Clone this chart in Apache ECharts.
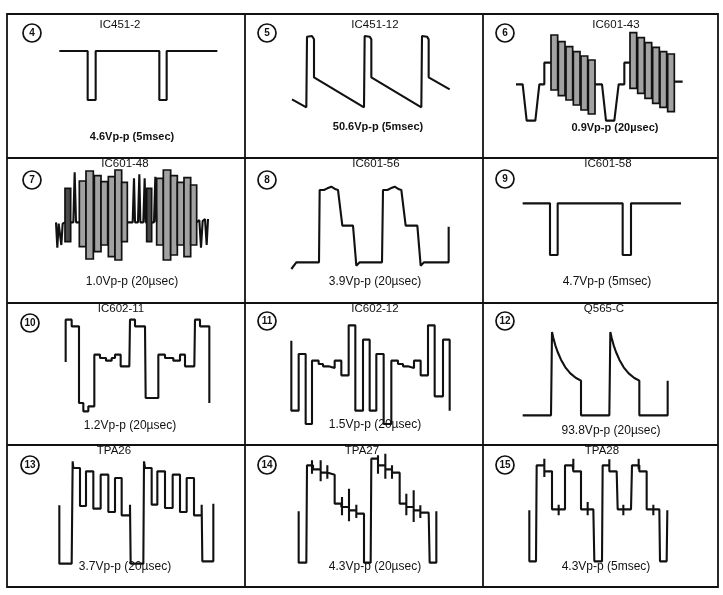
<!DOCTYPE html>
<html>
<head>
<meta charset="utf-8">
<script src="https://cdn.jsdelivr.net/npm/echarts@6/dist/echarts.min.js"></script>
<style>
  html, body { margin: 0; padding: 0; background: #fff; }
  #chart { width: 723px; height: 595px; }
</style>
</head>
<body>
<div id="chart"></div>
<script>
// waveform traces (1/3 px units, y grows downward)
const wave4 = [[[178,153],[263,153],[263,300],[287,300],[287,153],[478,153],[478,300],[500,300],[500,153],[652,153]]];
const wave5 = [[[162,298],[205,322],[207,110],[222,108],[228,118],[228,232],[378,322],[380,108],[395,110],[400,118],[400,232],[550,322],[552,108],[567,110],[572,118],[572,232],[635,268]]];
const wave6 = [
  [[120,253],[140,253],[152,362],[178,362],[190,253],[205,253],[205,188],[225,188]],
  [[357,253],[378,253],[390,362],[415,362],[428,253],[445,253],[445,188],[462,188]],
  [[595,245],[620,245]]
];
const bars6 = [[225,245,105,270],[247,267,125,287],[270,290,140,300],[292,312,155,315],[315,335,168,330],[337,357,180,342],
  [462,482,98,265],[485,505,113,280],[507,527,128,295],[530,550,142,310],[552,572,155,322],[575,595,162,335]];
const wave7 = [
  [[168,232],[172,308],[176,236],[184,300],[188,236],[195,232]],
  [[212,232],[220,232],[224,82],[228,232],[238,232]],
  [[382,232],[398,232],[402,100],[405,232],[414,232],[418,88],[421,232],[430,232],[434,100],[437,232],[440,232]],
  [[455,232],[462,232],[466,95],[469,232],[470,232]],
  [[590,232],[598,225],[603,308],[608,228],[615,222],[620,300],[624,222]]
];
const bars7 = [[238,258,108,305],[258,280,78,342],[283,303,92,320],[303,323,110,300],[325,345,95,335],[345,365,75,345],[365,382,112,290],
  [470,490,100,300],[490,512,75,345],[512,532,92,330],[532,552,112,300],[552,572,98,335],[572,590,120,300]];
const darkBars7 = [[195,212,130,290],[440,455,130,290]];
const wave8 = [[[160,372],[175,352],[243,352],[245,135],[258,135],[268,130],[280,125],[293,133],[300,135],[313,242],[345,242],[355,362],[365,352],[432,352],[435,135],[448,135],[458,130],[470,125],[483,133],[490,135],[503,242],[538,242],[548,362],[558,352],[632,352],[632,245]]];
const wave9 = [[[140,175],[222,175],[222,330],[245,330],[245,175],[440,175],[440,330],[465,330],[465,175],[615,175]]];
const wave10 = [[[197,222],[197,95],[215,95],[215,115],[237,115],[237,345],[250,345],[250,370],[265,370],[265,355],[283,355],[283,200],[300,200],[300,210],[318,210],[318,218],[335,218],[335,210],[345,210],[345,200],[362,200],[362,235],[388,235],[390,95],[405,95],[405,115],[435,115],[437,330],[475,330],[475,200],[495,200],[495,210],[520,210],[520,218],[540,218],[540,200],[555,200],[555,235],[583,235],[585,95],[600,95],[600,115],[628,115],[628,345]]];
const wave11 = [[[160,158],[160,368],[182,368],[182,198],[203,198],[203,408],[222,408],[222,218],[242,218],[242,228],[255,228],[255,235],[272,235],[272,240],[290,240],[290,218],[310,218],[310,262],[332,262],[332,112],[352,112],[352,368],[375,368],[375,155],[395,155],[395,368],[415,368],[415,198],[437,198],[437,408],[460,408],[460,218],[480,218],[480,228],[495,228],[495,235],[510,235],[510,240],[528,240],[528,218],[548,218],[548,262],[570,262],[570,112],[590,112],[590,325],[615,325],[615,155],[635,155],[635,368]]];
const wave12 = [[[140,382],[225,382],[228,132],[232,150],[238,172],[245,192],[255,215],[268,238],[283,256],[300,270],[315,278],[315,382],[400,382],[403,132],[407,150],[413,172],[420,192],[430,215],[443,238],[458,256],[475,270],[490,278],[490,382],[575,382],[575,278]]];
const wave13 = [[[178,220],[178,395],[215,395],[218,88],[220,108],[240,108],[240,222],[258,222],[258,118],[280,118],[280,230],[302,230],[302,128],[325,128],[325,240],[345,240],[345,138],[365,138],[365,250],[390,250],[390,218],[392,395],[430,395],[432,88],[435,108],[455,108],[455,218],[472,218],[472,118],[495,118],[495,228],[518,228],[518,128],[540,128],[540,240],[560,240],[560,138],[582,138],[582,250],[605,250],[605,218],[607,388],[640,388],[640,215]]];
const wave14 = [[[182,238],[182,392],[205,392],[207,100],[225,100],[225,112],[248,112],[248,122],[270,122],[270,128],[290,128],[290,215],[310,215],[310,225],[333,225],[333,235],[355,235],[355,245],[378,245],[378,392],[398,392],[400,80],[420,80],[420,100],[442,100],[442,112],[462,112],[462,122],[485,122],[485,215],[505,215],[505,225],[527,225],[527,235],[547,235],[547,242],[572,242],[575,392],[595,392],[595,238]]];
const ticks14 = [[222,85,125],[248,85,148],[268,100,140],[312,195,250],[333,170,268],[355,218,258],[420,70,125],[442,65,140],[462,100,140],[505,185,250],[527,175,270],[547,220,258]];
const wave15 = [[[160,235],[160,388],[180,388],[182,100],[205,100],[205,118],[228,118],[228,232],[267,232],[267,100],[290,100],[292,118],[315,118],[315,232],[352,232],[355,388],[378,388],[380,100],[400,100],[400,118],[422,118],[425,232],[465,232],[468,100],[490,100],[490,118],[512,118],[512,232],[550,232],[552,388],[572,388],[574,235]]];
const ticks15 = [[205,80,135],[248,218,250],[292,80,112],[335,210,250],[400,82,112],[442,218,250],[488,80,112],[532,218,250]];

const panelNums = ['4','5','6','7','8','9','10','11','12','13','14','15'];
const panelTitles = ['IC451-2','IC451-12','IC601-43','IC601-48','IC601-56','IC601-58','IC602-11','IC602-12','Q565-C','TPA26','TPA27','TPA28'];
const panelLabels = ['4.6Vp-p (5msec)','50.6Vp-p (5msec)','0.9Vp-p (20µsec)','1.0Vp-p (20µsec)','3.9Vp-p (20µsec)','4.7Vp-p (5msec)',
  '1.2Vp-p (20µsec)','1.5Vp-p (20µsec)','93.8Vp-p (20µsec)','3.7Vp-p (20µsec)','4.3Vp-p (20µsec)','4.3Vp-p (5msec)'];
const panelWaves = [wave4, wave5, wave6, wave7, wave8, wave9, wave10, wave11, wave12, wave13, wave14, wave15];
const panelTicks = { 10: ticks14, 11: ticks15 };
const panelBars = { 2: bars6, 3: bars7 };
const panelDarkBars = { 3: darkBars7 };

// layout (pixels)
const colX = [7, 245, 483, 718];
const rowY = [14, 158, 303, 445, 587];
const traceOx = [0, 238, 476];     // origin of trace units per column
const traceOy = [0, 145, 288, 432]; // and per row
const titlePos = [[120,25],[375,25],[616,25],[125,164],[376,164],[608,164],[121,309],[375,309],[604,309],[114,451],[362,451],[602,451]];
const circlePos = [[32,33],[267,33],[505,33],[32,180],[267,180],[505,179],[30,323],[267,321],[505,321],[30,465],[267,465],[505,465]];
const labelPos = [[132,137],[378,127],[615,128],[132,282],[375,282],[607,282],[130,426],[375,425],[611,431],[125,567],[375,567],[606,567]];

const FONT = '"Liberation Sans", Arial, sans-serif';
const INK = '#111';

const toLine = (segs, ticks) => {
  const out = [];
  segs.forEach(s => { if (out.length) out.push(['-','-']); s.forEach(p => out.push(p)); });
  (ticks || []).forEach(t => { out.push(['-','-']); out.push([t[0], t[1]]); out.push([t[0], t[2]]); });
  return out;
};

const barSeries = (i, data, fill) => ({
  type: 'custom',
  coordinateSystem: 'cartesian2d',
  xAxisIndex: i, yAxisIndex: i,
  encode: { x: [0, 1], y: [2, 3] },
  data: data,
  renderItem: (params, api) => {
    const a = api.coord([api.value(0), api.value(2)]);
    const b = api.coord([api.value(1), api.value(3)]);
    return {
      type: 'rect',
      shape: { x: a[0], y: a[1], width: b[0] - a[0], height: b[1] - a[1] },
      style: { fill: fill, stroke: INK, lineWidth: 1.7 }
    };
  }
});

const grid = [], xAxis = [], yAxis = [], series = [], graphic = [];

panelWaves.forEach((w, i) => {
  const c = i % 3, r = Math.floor(i / 3);
  grid.push({ left: colX[c], top: rowY[r], width: colX[c + 1] - colX[c], height: rowY[r + 1] - rowY[r] });
  xAxis.push({ type: 'value', gridIndex: i, show: false,
    min: (colX[c] - traceOx[c]) * 3, max: (colX[c + 1] - traceOx[c]) * 3 });
  yAxis.push({ type: 'value', gridIndex: i, show: false, inverse: true,
    min: (rowY[r] - traceOy[r]) * 3, max: (rowY[r + 1] - traceOy[r]) * 3 });
  series.push({
    type: 'line', xAxisIndex: i, yAxisIndex: i,
    data: toLine(w, panelTicks[i]),
    symbol: 'none', connectNulls: false, animation: false,
    lineStyle: { color: INK, width: 2.1 }
  });
  if (panelBars[i]) series.push(barSeries(i, panelBars[i], '#a2a2a2'));
  if (panelDarkBars[i]) series.push(barSeries(i, panelDarkBars[i], '#4a4a4a'));

  // number circle, title, amplitude label
  graphic.push({ type: 'circle', shape: { cx: circlePos[i][0], cy: circlePos[i][1], r: 9 },
    style: { fill: '#fff', stroke: INK, lineWidth: 1.7 } });
  graphic.push({ type: 'text', x: circlePos[i][0], y: circlePos[i][1] + 0.5,
    style: { text: panelNums[i], font: 'bold 10px ' + FONT, fill: INK,
      align: 'center', verticalAlign: 'middle', textAlign: 'center', textVerticalAlign: 'middle' } });
  graphic.push({ type: 'text', x: titlePos[i][0], y: titlePos[i][1],
    style: { text: panelTitles[i], font: '11.5px ' + FONT, fill: INK,
      align: 'center', verticalAlign: 'middle', textAlign: 'center', textVerticalAlign: 'middle' } });
  graphic.push({ type: 'text', x: labelPos[i][0], y: labelPos[i][1],
    style: { text: panelLabels[i], font: (r === 0 ? 'bold 11px ' : '12px ') + FONT, fill: INK,
      align: 'center', verticalAlign: 'middle', textAlign: 'center', textVerticalAlign: 'middle' } });
});

// table frame
graphic.push({ type: 'rect', shape: { x: colX[0], y: rowY[0], width: colX[3] - colX[0], height: rowY[4] - rowY[0] },
  style: { fill: 'none', stroke: INK, lineWidth: 1.8 } });
[colX[1], colX[2]].forEach(x => graphic.push({ type: 'line', shape: { x1: x, y1: rowY[0], x2: x, y2: rowY[4] },
  style: { stroke: INK, lineWidth: 1.8 } }));
[rowY[1], rowY[2], rowY[3]].forEach(y => graphic.push({ type: 'line', shape: { x1: colX[0], y1: y, x2: colX[3], y2: y },
  style: { stroke: INK, lineWidth: 1.8 } }));

const chart = echarts.init(document.getElementById('chart'));
chart.setOption({
  backgroundColor: '#fff',
  animation: false,
  grid, xAxis, yAxis, series, graphic
});
</script>
</body>
</html>
